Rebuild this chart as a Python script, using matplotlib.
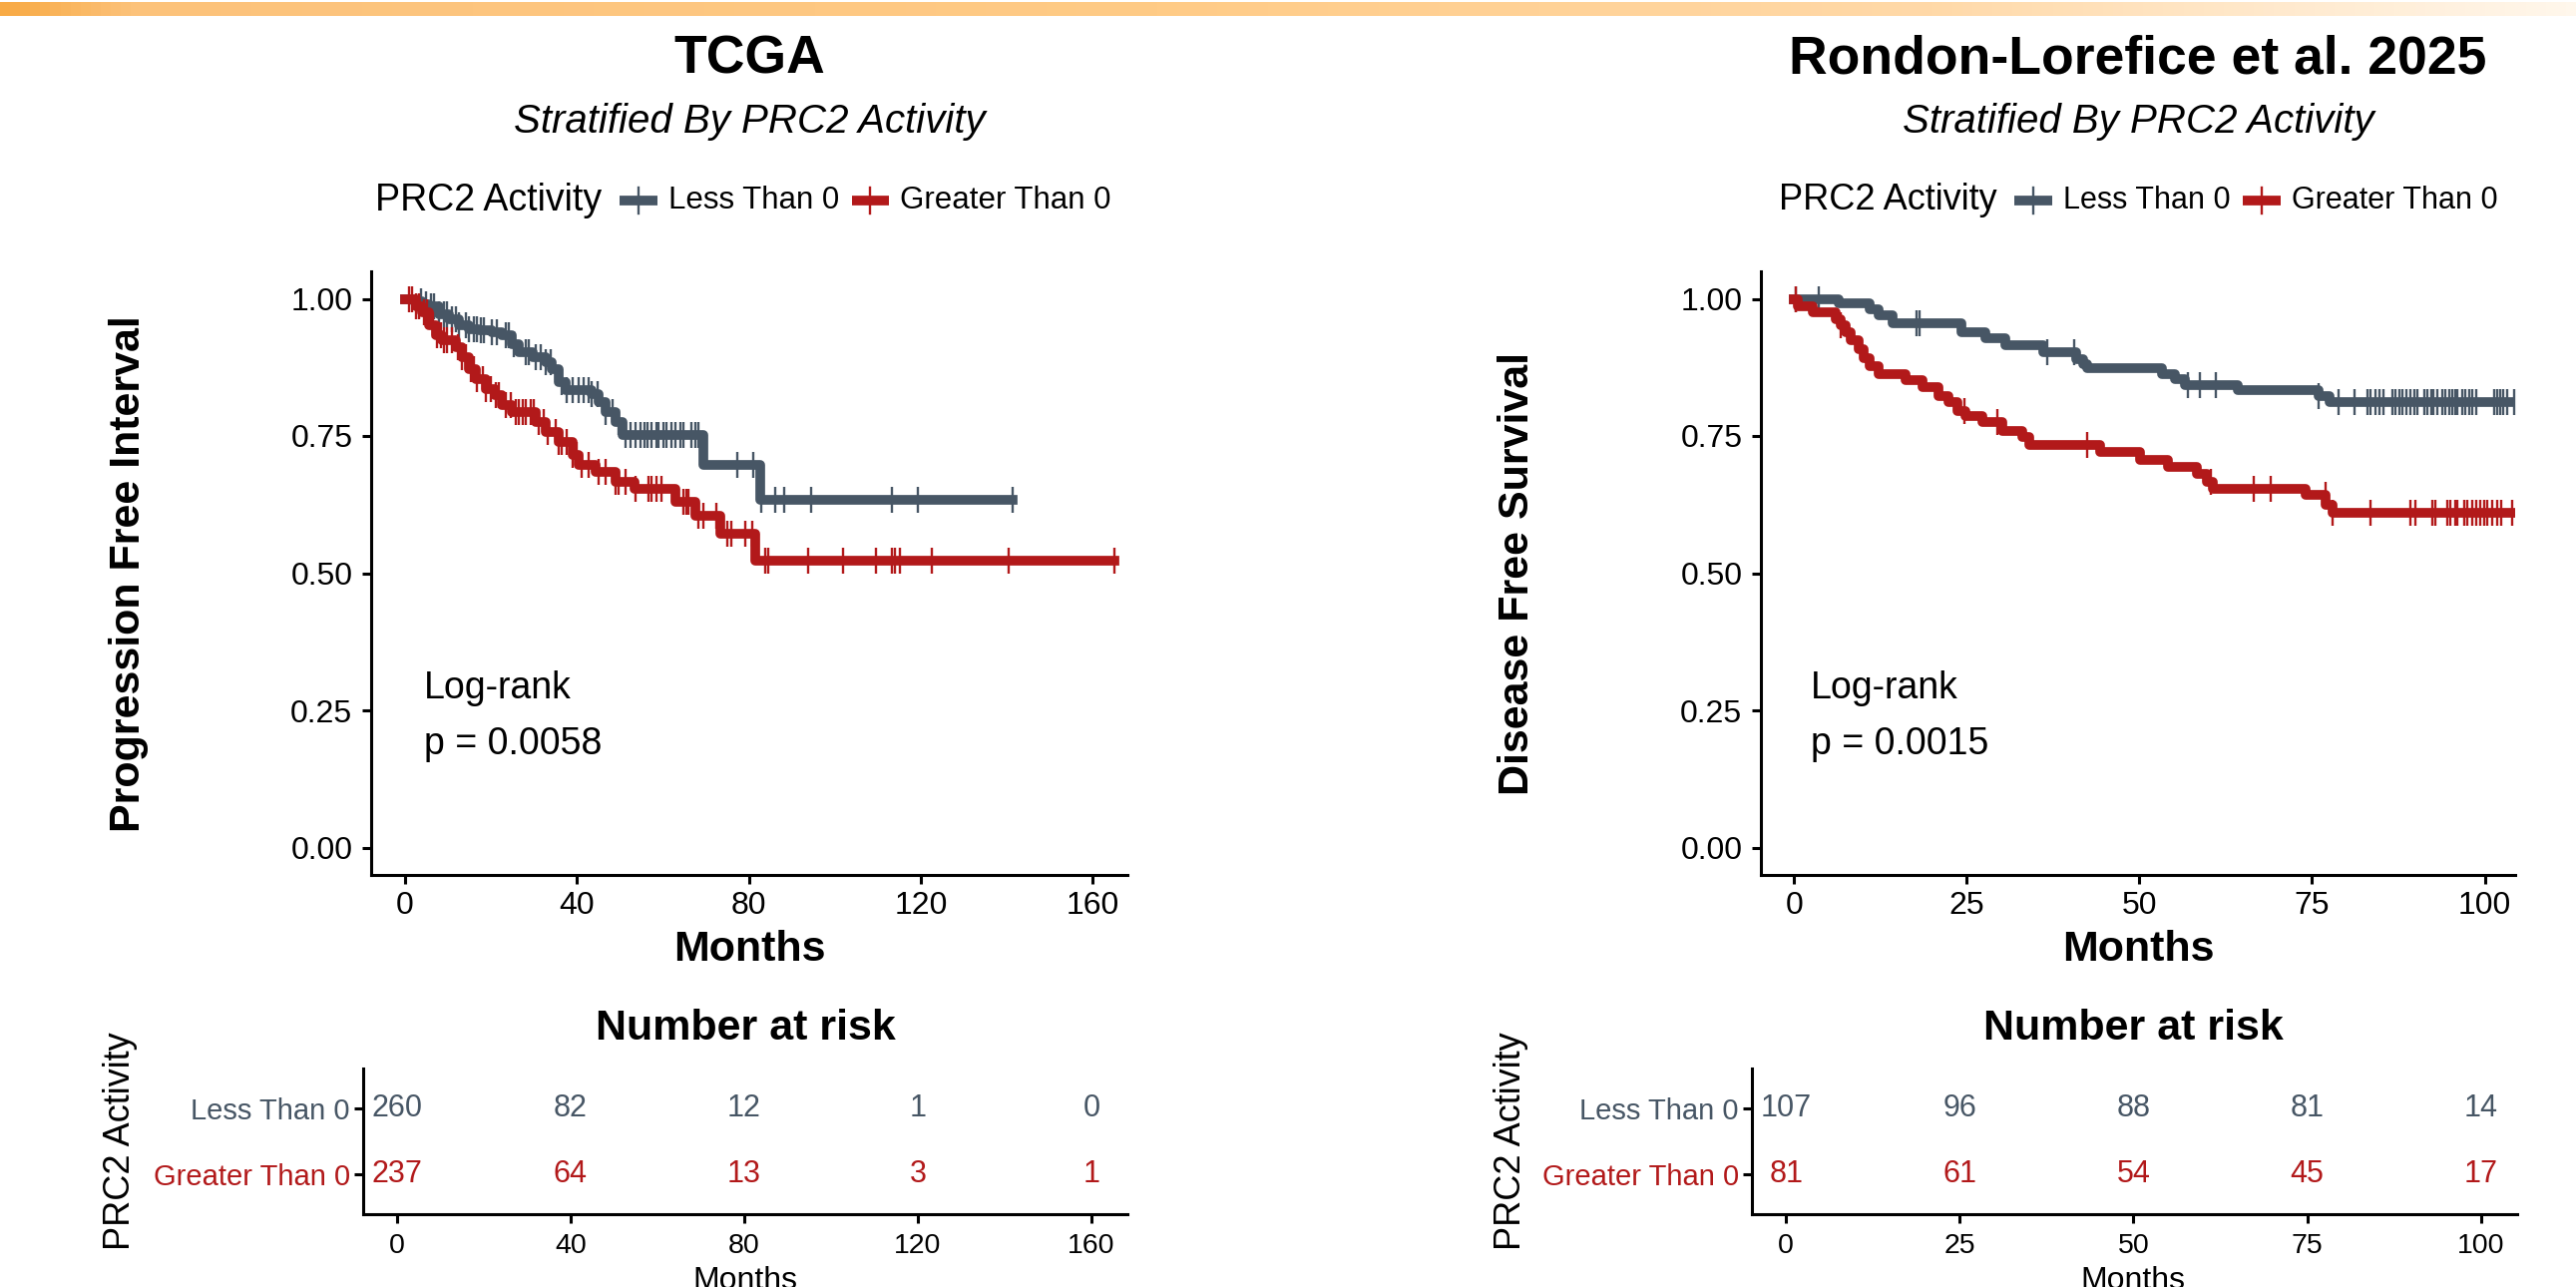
import numpy as np
import matplotlib.pyplot as plt
from matplotlib.lines import Line2D
from matplotlib.colors import LinearSegmentedColormap
from matplotlib.offsetbox import HPacker, TextArea, DrawingArea, AnchoredOffsetbox

FONT = ['Liberation Sans', 'DejaVu Sans']
plt.rcParams['font.family'] = FONT

GREY = '#475665'
RED = '#B2191A'
groups = ['Less Than 0', 'Greater Than 0']

# ---- TCGA: progression free interval ----
tcga_less_t = [0, 2.0, 4.0, 5.6, 7.9, 10.2, 12.5, 14.9, 17.2, 20.3, 22.6, 24.9, 26.5, 29.6,
               32.7, 34.2, 35.8, 37.3, 43.5, 45.0, 46.6, 48.9, 50.5, 69.4, 82.6]
tcga_less_s = [1.0, 0.996, 0.990, 0.987, 0.972, 0.963, 0.951, 0.945, 0.942, 0.939, 0.933, 0.918,
               0.902, 0.893, 0.884, 0.872, 0.848, 0.833, 0.827, 0.812, 0.794, 0.776, 0.752, 0.697,
               0.634]
tcga_less_end = 141.5
tcga_less_cens = [3.6, 4.8, 6.0, 6.7, 7.9, 9.1, 9.8, 11.0, 11.8, 12.5, 14.1, 14.9, 16.0, 16.8,
                  17.6, 18.4, 20.3, 21.4, 23.4, 24.2, 25.3, 28.0, 28.8, 30.3, 31.5, 32.7, 33.8,
                  36.5, 37.7, 38.9, 40.4, 41.6, 42.7, 43.5, 44.7, 46.6, 48.2, 49.7, 51.3, 52.4,
                  53.6, 54.7, 55.7, 56.5, 57.4, 58.4, 59.0, 60.1, 60.9, 62.1, 62.9, 64.0, 64.8,
                  66.7, 67.5, 68.3, 77.2, 81.0, 83.0, 86.2, 88.2, 94.4, 113.4, 119.4, 141.5]

tcga_great_t = [0, 2.5, 4.0, 5.6, 7.1, 8.7, 11.8, 13.3, 14.9, 16.4, 18.7, 21.0, 22.6, 24.9,
                30.3, 32.7, 35.8, 38.9, 40.4, 44.3, 48.9, 53.5, 62.9, 67.5, 73.3, 81.4]
tcga_great_s = [1.0, 0.987, 0.975, 0.951, 0.933, 0.924, 0.912, 0.893, 0.872, 0.854, 0.836,
                0.824, 0.806, 0.794, 0.776, 0.758, 0.739, 0.715, 0.697, 0.685, 0.667, 0.654,
                0.630, 0.605, 0.572, 0.523]
tcga_great_end = 165.0
tcga_great_cens = [0.9, 1.7, 2.5, 3.3, 4.4, 5.2, 6.4, 7.5, 8.3, 9.1, 9.8, 11.0, 12.2, 13.3,
                   14.1, 15.3, 16.0, 16.8, 18.0, 18.7, 19.9, 21.1, 21.8, 23.4, 24.5, 25.7, 26.5,
                   27.3, 28.0, 29.2, 30.0, 31.1, 32.3, 33.1, 35.0, 35.8, 36.5, 37.7, 38.9, 40.0,
                   41.2, 42.7, 45.1, 46.6, 48.9, 49.7, 51.3, 53.6, 56.7, 57.3, 58.6, 59.6, 64.8,
                   65.4, 66.0, 68.3, 69.4, 72.5, 74.9, 76.0, 79.1, 80.7, 83.8, 84.5, 93.8, 101.9,
                   109.7, 113.2, 113.9, 115.1, 122.5, 140.4, 165.0]

tcga_risk_times = [0, 40, 80, 120, 160]
tcga_risk_less = [260, 82, 12, 1, 0]
tcga_risk_great = [237, 64, 13, 3, 1]

# ---- Rondon-Lorefice et al. 2025: disease free survival ----
rl_less_t = [0, 6.5, 10.9, 12.3, 14.2, 24.3, 27.7, 30.6, 36.1, 40.9, 41.9, 42.4, 53.2, 55.1,
             56.6, 64.3, 76.0, 77.5]
rl_less_s = [1.0, 0.991, 0.981, 0.970, 0.955, 0.940, 0.928, 0.915, 0.902, 0.890, 0.881, 0.873,
             0.863, 0.854, 0.843, 0.833, 0.823, 0.812]
rl_less_end = 104.4
rl_less_cens = [0.3, 3.6, 17.8, 18.2, 36.7, 40.5, 57.0, 58.7, 61.1, 76.0, 78.9, 81.1, 83.0,
                83.5, 84.2, 84.7, 85.4, 86.6, 87.1, 87.6, 88.1, 88.6, 89.3, 89.8, 90.2, 91.2,
                91.7, 92.2, 92.6, 93.1, 93.8, 94.3, 94.8, 95.3, 95.8, 96.0, 96.7, 97.2, 97.7,
                98.2, 98.7, 101.3, 101.8, 102.3, 102.7, 103.2, 104.2]

rl_great_t = [0, 0.5, 2.7, 6.1, 6.8, 7.5, 8.2, 9.4, 10.1, 10.9, 12.3, 16.2, 18.6, 20.9, 22.4,
              23.6, 24.8, 27.2, 30.1, 33.0, 34.0, 44.3, 50.1, 54.2, 58.3, 59.7, 60.7, 74.1,
              77.0, 78.0]
rl_great_s = [1.0, 0.987, 0.975, 0.963, 0.951, 0.939, 0.924, 0.909, 0.891, 0.878, 0.863, 0.851,
              0.839, 0.823, 0.811, 0.796, 0.787, 0.775, 0.760, 0.748, 0.734, 0.721, 0.706,
              0.694, 0.681, 0.667, 0.653, 0.642, 0.624, 0.610]
rl_great_end = 104.4
rl_great_cens = [0.3, 6.8, 24.6, 29.5, 42.4, 60.4, 66.6, 69.0, 76.9, 78.0, 83.4, 89.2, 89.9,
                 92.4, 92.9, 94.6, 95.0, 95.8, 96.0, 97.0, 97.5, 98.2, 98.7, 99.4, 99.9, 100.4,
                 101.1, 101.8, 102.4, 103.9]

rl_risk_times = [0, 25, 50, 75, 100]
rl_risk_less = [107, 96, 88, 81, 14]
rl_risk_great = [81, 61, 54, 45, 17]

W, H = 2582, 1290
fig = plt.figure(figsize=(W / 100, H / 100), dpi=100)


def box(x0, y0, x1, y1):
    return [x0 / W, 1 - y1 / H, (x1 - x0) / W, (y1 - y0) / H]


def fx(x):
    return x / W


def fy(y):
    return 1 - y / H


# orange header strip
cmap = LinearSegmentedColormap.from_list(
    'strip', [(0, '#F8AA44'), (0.05, '#FCC27A'), (0.45, '#FFCB86'), (0.75, '#FFD9A8'),
              (1, '#FFF7EC')])
strip = fig.add_axes(box(0, 2, W, 16))
strip.imshow(np.linspace(0, 1, 512)[None, :], aspect='auto', cmap=cmap)
strip.axis('off')


def style_axes(ax):
    for s in ['top', 'right']:
        ax.spines[s].set_visible(False)
    for s in ['left', 'bottom']:
        ax.spines[s].set_linewidth(2.2)
    ax.tick_params(width=2.2, length=6.5, labelsize=23, pad=5, color='black')


def km_panel(ax, curves, xlim, xticks, ptext):
    for times, surv, end, cens, color in curves:
        x = np.append(times, end)
        y = np.append(surv, surv[-1])
        ax.step(x, y, where='post', color=color, lw=7, solid_joinstyle='round')
        idx = np.searchsorted(times, cens, side='right') - 1
        ax.plot(cens, np.asarray(surv)[idx], ls='none', marker='|', ms=19, mew=1.7,
                color=color)
    style_axes(ax)
    ax.set_xlim(*xlim)
    ax.set_ylim(-0.05, 1.05)
    ax.set_xticks(xticks)
    ax.set_yticks([0, 0.25, 0.5, 0.75, 1.0])
    ax.set_yticklabels(['0.00', '0.25', '0.50', '0.75', '1.00'])
    ax.tick_params(axis='y', pad=7)
    ax.text(ptext[0], 0.272, 'Log-rank', fontsize=27, va='baseline')
    ax.text(ptext[0], 0.170, ptext[1], fontsize=27, va='baseline')


def risk_panel(ax, times, less, great, xlim):
    for yv, vals, color in [(2, less, GREY), (1, great, RED)]:
        for t, v in zip(times, vals):
            ax.text(t, yv, str(v), color=color, fontsize=22, ha='center', va='center')
    style_axes(ax)
    ax.set_xlim(*xlim)
    ax.set_ylim(0.4, 2.6)
    ax.set_xticks(times)
    ax.set_yticks([2, 1])
    ax.set_yticklabels(groups)
    ax.tick_params(axis='x', labelsize=20.5, pad=7)
    ax.tick_params(axis='y', labelsize=21, pad=3)
    for lab, color in zip(ax.get_yticklabels(), [GREY, RED]):
        lab.set_color(color)


def legend(cx, cy, title_size, label_size):
    title = TextArea('PRC2 Activity', textprops=dict(fontsize=title_size))
    entries = []
    for lab, col in zip(groups, [GREY, RED]):
        da = DrawingArea(27, 19, 0, 0)
        da.add_artist(Line2D([0, 27], [9.5, 9.5], color=col, lw=7, solid_capstyle='butt'))
        da.add_artist(Line2D([13.5, 13.5], [0, 19], color=col, lw=1.7))
        entries.append(HPacker(children=[da, TextArea(lab, textprops=dict(fontsize=label_size))],
                               align='center', pad=0, sep=8))
    packed = HPacker(children=[title, HPacker(children=entries, align='center', pad=0, sep=9)],
                     align='center', pad=0, sep=13)
    ab = AnchoredOffsetbox(loc='center', child=packed, pad=0, borderpad=0, frameon=False,
                           bbox_to_anchor=(fx(cx), fy(cy)), bbox_transform=fig.transFigure)
    fig.add_artist(ab)


panels = [
    dict(title='TCGA', ylabel='Progression Free Interval',
         main=(372, 1130), risk=(364, 1130), cx=751, rcx=747, ylx=129, rylx=121,
         xlim=(-7.9, 168.1), rxlim=(-7.8, 168.3), xticks=[0, 40, 80, 120, 160],
         curves=[(tcga_less_t, tcga_less_s, tcga_less_end, tcga_less_cens, GREY),
                 (tcga_great_t, tcga_great_s, tcga_great_end, tcga_great_cens, RED)],
         ptext=(4.4, 'p = 0.0058'), leg=(745, 27, 22.5),
         risk_data=(tcga_risk_times, tcga_risk_less, tcga_risk_great)),
    dict(title='Rondon-Lorefice et al. 2025', ylabel='Disease Free Survival',
         main=(1765, 2521), risk=(1756, 2523), cx=2143, rcx=2138, ylx=1521, rylx=1515,
         xlim=(-4.8, 104.4), rxlim=(-4.9, 105.2), xticks=[0, 25, 50, 75, 100],
         curves=[(rl_less_t, rl_less_s, rl_less_end, rl_less_cens, GREY),
                 (rl_great_t, rl_great_s, rl_great_end, rl_great_cens, RED)],
         ptext=(2.4, 'p = 0.0015'), leg=(2143, 26, 22),
         risk_data=(rl_risk_times, rl_risk_less, rl_risk_great)),
]

for p in panels:
    ax = fig.add_axes(box(p['main'][0], 272, p['main'][1], 877))
    km_panel(ax, p['curves'], p['xlim'], p['xticks'], p['ptext'])
    fig.text(fx(p['cx']), fy(59), p['title'], fontsize=38.5, fontweight='bold',
             ha='center', va='center')
    fig.text(fx(p['cx']), fy(122), 'Stratified By PRC2 Activity', fontsize=29,
             style='italic', ha='center', va='center')
    legend(p['leg'][0], 201, p['leg'][1], p['leg'][2])
    fig.text(fx(p['ylx']), fy(575), p['ylabel'], fontsize=31, fontweight='bold',
             rotation=90, ha='center', va='center')
    fig.text(fx(p['cx']), fy(952), 'Months', fontsize=31, fontweight='bold',
             ha='center', va='center')

    rax = fig.add_axes(box(p['risk'][0], 1071, p['risk'][1], 1217))
    risk_panel(rax, *p['risk_data'], p['rxlim'])
    fig.text(fx(p['rcx']), fy(1031), 'Number at risk', fontsize=31, fontweight='bold',
             ha='center', va='center')
    fig.text(fx(p['rylx']), fy(1144), 'PRC2 Activity', fontsize=26, rotation=90,
             ha='center', va='center')
    fig.text(fx(p['rcx']), fy(1292), 'Months', fontsize=23, ha='center', va='baseline')

fig.savefig('out.png', dpi=100)
